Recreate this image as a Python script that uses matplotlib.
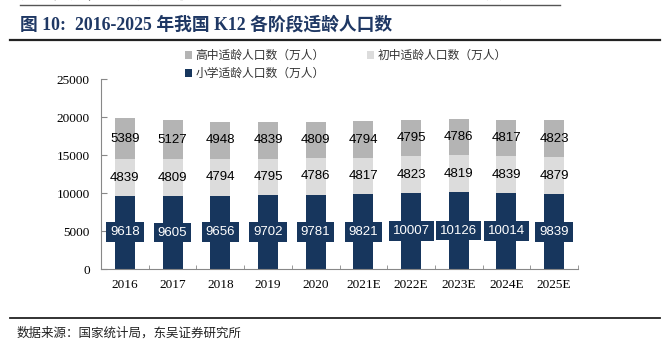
import matplotlib
matplotlib.use("Agg")
import matplotlib.pyplot as plt
import numpy as np

years = ["2016", "2017", "2018", "2019", "2020", "2021E", "2022E", "2023E", "2024E", "2025E"]
primary = [9618, 9605, 9656, 9702, 9781, 9821, 10007, 10126, 10014, 9839]
junior = [4839, 4809, 4794, 4795, 4786, 4817, 4823, 4819, 4839, 4879]
senior = [5389, 5127, 4948, 4839, 4809, 4794, 4795, 4786, 4817, 4823]
yticks = [0, 5000, 10000, 15000, 20000, 25000]

name_senior = "高中适龄人口数（万人）"
name_junior = "初中适龄人口数（万人）"
name_primary = "小学适龄人口数（万人）"

c_primary = "#17365D"
c_junior = "#DCDCDC"
c_senior = "#B4B4B4"

cjk = ["Noto Sans CJK SC", "DejaVu Sans"]
serif = ["Liberation Serif", "Noto Sans CJK SC"]
sans = ["Liberation Sans", "DejaVu Sans"]

fig = plt.figure(figsize=(6.71, 3.47), dpi=100)
fig.patch.set_facecolor("white")

# tail of the preceding paragraph, running off the top edge of the page
fig.text(20 / 671, 1 - 3 / 347, "人口充足，出生人口的下降预计下短期内不会对生源供应产生较大影响。",
         family=cjk, fontsize=12, color="#222222", va="bottom", ha="left")
fig.add_artist(plt.Line2D([20 / 671, 560 / 671], [1 - 5 / 347] * 2, color="#555555", lw=1.0))

# title
fig.text(20 / 671, 1 - 25 / 347, "图 10:  2016-2025 年我国 K12 各阶段适龄人口数",
         family=serif, fontsize=12.8, fontweight="bold", color="#1F3864", va="center", ha="left")
fig.add_artist(plt.Line2D([10 / 671, 660 / 671], [1 - 40 / 347] * 2, color="#222222", lw=1.6))

# footer
fig.add_artist(plt.Line2D([10 / 671, 660 / 671], [1 - 318 / 347] * 2, color="#222222", lw=1.3))
fig.text(17 / 671, 1 - 333 / 347, "数据来源：国家统计局，东吴证券研究所",
         family=cjk, fontsize=9, color="#222222", va="center", ha="left")

ax = fig.add_axes([101 / 671, 1 - 269 / 347, 477 / 671, 190 / 347])
x = np.arange(len(years))
w = 0.42
p = np.array(primary)
j = np.array(junior)
s = np.array(senior)
b3 = ax.bar(x, p, w, color=c_primary, label=name_primary, zorder=2)
b2 = ax.bar(x, j, w, bottom=p, color=c_junior, label=name_junior, zorder=2)
b1 = ax.bar(x, s, w, bottom=p + j, color=c_senior, label=name_senior, zorder=2)

for i in range(len(years)):
    ax.text(x[i], p[i] / 2, f"{primary[i]}", ha="center", va="center", fontsize=9.5,
            family=sans, color="white", zorder=3,
            bbox=dict(boxstyle="square,pad=0.3", fc=c_primary, ec="none"))
    ax.text(x[i], p[i] + j[i] / 2, f"{junior[i]}", ha="center", va="center",
            fontsize=9.5, family=sans, color="black", zorder=3)
    ax.text(x[i], p[i] + j[i] + s[i] / 2, f"{senior[i]}", ha="center", va="center",
            fontsize=9.5, family=sans, color="black", zorder=3)

ax.set_xlim(-0.5, len(years) - 0.5)
ax.set_ylim(0, 25000)
ax.set_yticks(yticks)
ax.set_yticklabels([str(v) for v in yticks], family=serif, fontsize=9.5)
ax.set_xticks(x)
ax.set_xticklabels(years, family=serif, fontsize=9.5)
ax.tick_params(axis="x", length=0, pad=7)
ax.set_xticks(np.arange(len(years) + 1) - 0.5, minor=True)
ax.tick_params(axis="x", which="minor", direction="in", length=3, color="#888888")
ax.tick_params(axis="y", direction="in", length=4, color="#888888", pad=8)
for side in ["top", "right"]:
    ax.spines[side].set_visible(False)
for side in ["left", "bottom"]:
    ax.spines[side].set_color("#888888")
    ax.spines[side].set_linewidth(0.8)

# column-major fill: first column holds senior + primary, second holds junior
leg = fig.legend(handles=[b1, b3, b2], labels=[name_senior, name_primary, name_junior],
                 loc="upper left", bbox_to_anchor=(185 / 671, 1 - 49 / 347), ncol=2,
                 frameon=False, prop={"family": cjk, "size": 8.5},
                 handlelength=0.6, handleheight=0.6, handletextpad=0.3,
                 columnspacing=3.6, labelspacing=0.45, borderaxespad=0, borderpad=0)
for t in leg.get_texts():
    t.set_color("#333333")

fig.savefig("out.png", dpi=100, facecolor="white")
